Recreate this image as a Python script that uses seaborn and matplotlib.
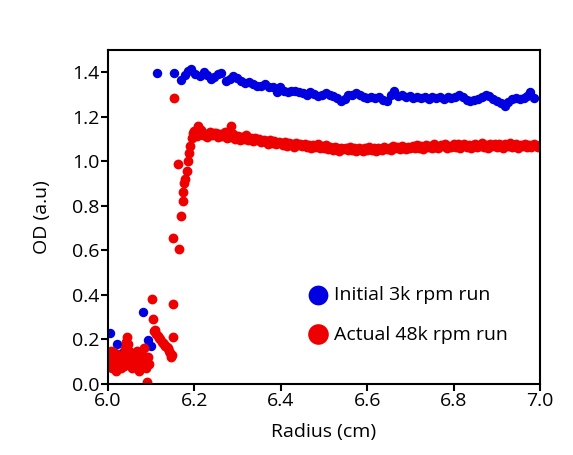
import matplotlib
matplotlib.use('Agg')
import matplotlib.pyplot as plt
import seaborn as sns
import pandas as pd

# Initial 3k rpm run (blue)
initial_radius = [6.005, 6.012, 6.021, 6.032, 6.081, 6.093, 6.100,
                  6.113, 6.153, 6.169, 6.178, 6.185, 6.192, 6.201, 6.213, 6.222, 6.229,
                  6.238, 6.245, 6.255, 6.262, 6.273, 6.282, 6.289, 6.299, 6.308, 6.317,
                  6.326, 6.336, 6.345, 6.354, 6.363, 6.373, 6.382, 6.391, 6.398, 6.407,
                  6.416, 6.424, 6.433, 6.442, 6.451, 6.460, 6.468, 6.477, 6.486, 6.495,
                  6.504, 6.513, 6.521, 6.530, 6.539, 6.548, 6.556, 6.565, 6.574, 6.583,
                  6.592, 6.600, 6.609, 6.618, 6.627, 6.636, 6.645, 6.654, 6.662, 6.671,
                  6.680, 6.689, 6.698, 6.706, 6.715, 6.724, 6.733, 6.742, 6.751, 6.759,
                  6.768, 6.777, 6.786, 6.795, 6.803, 6.812, 6.821, 6.830, 6.839, 6.848,
                  6.856, 6.865, 6.874, 6.883, 6.892, 6.900, 6.909, 6.918, 6.927, 6.936,
                  6.945, 6.953, 6.962, 6.971, 6.978, 6.986]
initial_od = [0.230, 0.130, 0.180, 0.140, 0.324, 0.198, 0.170,
              1.396, 1.396, 1.365, 1.390, 1.405, 1.414, 1.392, 1.383, 1.401, 1.387,
              1.369, 1.378, 1.392, 1.396, 1.360, 1.369, 1.383, 1.374, 1.360, 1.351,
              1.356, 1.347, 1.338, 1.338, 1.347, 1.333, 1.333, 1.311, 1.335, 1.318,
              1.312, 1.318, 1.315, 1.312, 1.306, 1.300, 1.310, 1.303, 1.295, 1.300,
              1.306, 1.300, 1.292, 1.285, 1.270, 1.280, 1.296, 1.300, 1.308, 1.296,
              1.290, 1.285, 1.290, 1.283, 1.288, 1.277, 1.272, 1.300, 1.318, 1.292,
              1.296, 1.290, 1.293, 1.286, 1.291, 1.285, 1.288, 1.280, 1.290, 1.284,
              1.288, 1.282, 1.290, 1.284, 1.288, 1.300, 1.290, 1.276, 1.272, 1.275,
              1.280, 1.290, 1.300, 1.292, 1.278, 1.270, 1.262, 1.250, 1.268, 1.280,
              1.284, 1.282, 1.286, 1.292, 1.310, 1.286]

# Actual 48k rpm run (red)
actual_radius = [6.002, 6.004, 6.006, 6.008, 6.010, 6.012, 6.014, 6.016, 6.018, 6.020,
                 6.022, 6.024, 6.026, 6.028, 6.030, 6.032, 6.034, 6.036, 6.038, 6.040,
                 6.042, 6.044, 6.046, 6.048, 6.050, 6.052, 6.054, 6.056, 6.058, 6.060,
                 6.062, 6.064, 6.066, 6.068, 6.070, 6.072, 6.074, 6.076, 6.078, 6.080,
                 6.082, 6.084, 6.086, 6.088, 6.090, 6.092, 6.094,
                 6.102, 6.104, 6.106, 6.109, 6.112, 6.115, 6.118, 6.121, 6.124, 6.127,
                 6.130, 6.133, 6.136, 6.139, 6.142, 6.144, 6.146, 6.148, 6.150, 6.150,
                 6.150, 6.153, 6.162, 6.165, 6.170, 6.174, 6.174, 6.177, 6.179, 6.182,
                 6.186, 6.188, 6.190, 6.194, 6.197, 6.208, 6.285,
                 6.200, 6.205, 6.210, 6.215, 6.220, 6.225, 6.230, 6.235, 6.240, 6.245,
                 6.250, 6.255, 6.260, 6.265, 6.270, 6.275, 6.280, 6.285, 6.290, 6.295,
                 6.300, 6.305, 6.310, 6.315, 6.320, 6.325, 6.330, 6.335, 6.340, 6.345,
                 6.350, 6.355, 6.360, 6.365, 6.370, 6.375, 6.380, 6.385, 6.390, 6.395,
                 6.400, 6.405, 6.410, 6.415, 6.420, 6.425, 6.430, 6.435, 6.440, 6.445,
                 6.450, 6.455, 6.460, 6.465, 6.470, 6.475, 6.480, 6.485, 6.490, 6.495,
                 6.500, 6.505, 6.510, 6.515, 6.520, 6.525, 6.530, 6.535, 6.540, 6.545,
                 6.550, 6.555, 6.560, 6.565, 6.570, 6.575, 6.580, 6.585, 6.590, 6.595,
                 6.600, 6.605, 6.610, 6.615, 6.620, 6.625, 6.630, 6.635, 6.640, 6.645,
                 6.650, 6.655, 6.660, 6.665, 6.670, 6.675, 6.680, 6.685, 6.690, 6.695,
                 6.700, 6.705, 6.710, 6.715, 6.720, 6.725, 6.730, 6.735, 6.740, 6.745,
                 6.750, 6.755, 6.760, 6.765, 6.770, 6.775, 6.780, 6.785, 6.790, 6.795,
                 6.800, 6.805, 6.810, 6.815, 6.820, 6.825, 6.830, 6.835, 6.840, 6.845,
                 6.850, 6.855, 6.860, 6.865, 6.870, 6.875, 6.880, 6.885, 6.890, 6.895,
                 6.900, 6.905, 6.910, 6.915, 6.920, 6.925, 6.930, 6.935, 6.940, 6.945,
                 6.950, 6.955, 6.960, 6.965, 6.970, 6.975, 6.980, 6.985, 6.990, 6.995,
                 7.000]
actual_od = [0.120, 0.080, 0.150, 0.100, 0.070, 0.120, 0.090, 0.140, 0.060, 0.110,
             0.080, 0.130, 0.090, 0.120, 0.070, 0.100, 0.130, 0.080, 0.110, 0.160,
             0.190, 0.210, 0.180, 0.150, 0.120, 0.090, 0.140, 0.070, 0.100, 0.130,
             0.080, 0.110, 0.150, 0.090, 0.120, 0.060, 0.100, 0.140, 0.110, 0.080,
             0.120, 0.160, 0.100, 0.070, 0.010, 0.120, 0.090,
             0.383, 0.290, 0.240, 0.243, 0.225, 0.215, 0.205, 0.200, 0.190, 0.185,
             0.180, 0.170, 0.165, 0.160, 0.150, 0.140, 0.120, 0.130, 0.360, 0.210,
             0.656, 1.286, 0.986, 0.607, 0.754, 0.824, 0.862, 0.904, 0.922, 0.956,
             1.001, 1.039, 1.069, 1.107, 1.129, 1.158, 1.158,
             1.135, 1.112, 1.128, 1.140, 1.118, 1.125, 1.110, 1.132, 1.120, 1.128,
             1.126, 1.108, 1.122, 1.112, 1.130, 1.105, 1.118, 1.110, 1.124, 1.102,
             1.115, 1.098, 1.110, 1.100, 1.118, 1.095, 1.106, 1.090, 1.104, 1.098,
             1.100, 1.086, 1.098, 1.092, 1.080, 1.095, 1.084, 1.090, 1.076, 1.088,
             1.082, 1.074, 1.088, 1.070, 1.082, 1.076, 1.066, 1.084, 1.072, 1.078,
             1.068, 1.080, 1.064, 1.074, 1.058, 1.072, 1.066, 1.076, 1.060, 1.070,
             1.062, 1.072, 1.055, 1.066, 1.050, 1.064, 1.058, 1.046, 1.062, 1.055,
             1.060, 1.050, 1.064, 1.052, 1.058, 1.045, 1.062, 1.054, 1.048, 1.060,
             1.052, 1.064, 1.050, 1.058, 1.046, 1.062, 1.056, 1.050, 1.066, 1.054,
             1.060, 1.052, 1.068, 1.058, 1.064, 1.054, 1.070, 1.060, 1.056, 1.066,
             1.058, 1.070, 1.062, 1.074, 1.060, 1.068, 1.056, 1.072, 1.064, 1.070,
             1.062, 1.076, 1.066, 1.060, 1.074, 1.068, 1.080, 1.062, 1.070, 1.064,
             1.076, 1.066, 1.078, 1.062, 1.072, 1.080, 1.066, 1.074, 1.060, 1.072,
             1.078, 1.064, 1.070, 1.082, 1.066, 1.074, 1.062, 1.078, 1.068, 1.076,
             1.066, 1.080, 1.070, 1.062, 1.076, 1.068, 1.082, 1.064, 1.072, 1.078,
             1.062, 1.074, 1.068, 1.080, 1.064, 1.072, 1.066, 1.078, 1.070, 1.064,
             1.072]

x_ticks = [6.0, 6.2, 6.4, 6.6, 6.8, 7.0]
y_ticks = [0.0, 0.2, 0.4, 0.6, 0.8, 1.0, 1.2, 1.4]

sns.set_theme(style='ticks')
plt.rcParams['font.family'] = ['Open Sans', 'DejaVu Sans']
plt.rcParams['text.color'] = 'black'
plt.rcParams['axes.labelcolor'] = 'black'

initial = pd.DataFrame({'Radius': initial_radius, 'OD': initial_od})
actual = pd.DataFrame({'Radius': actual_radius, 'OD': actual_od})

fig = plt.figure(figsize=(5.73, 4.55), dpi=100)
ax = fig.add_axes([0.1885, 0.156, 0.7539, 0.734])

sns.scatterplot(data=initial, x='Radius', y='OD', color='#0000e0', s=46,
                linewidth=0, label='Initial 3k rpm run', ax=ax)
sns.scatterplot(data=actual, x='Radius', y='OD', color='#ee0000', s=50,
                linewidth=0, label='Actual 48k rpm run', ax=ax)

ax.set_xlim(6.0, 7.0)
ax.set_ylim(0.0, 1.5)
ax.set_xticks(x_ticks)
ax.set_yticks(y_ticks)
ax.set_xticklabels([f'{t:.1f}' for t in x_ticks])
ax.set_yticklabels([f'{t:.1f}' for t in y_ticks])
ax.tick_params(labelsize=14, length=5, width=1.5, color='black', labelcolor='black', pad=1)
for sp in ax.spines.values():
    sp.set_linewidth(1.5)
    sp.set_color('black')

ax.set_xlabel('Radius (cm)', fontsize=14, labelpad=9)
ax.set_ylabel('OD (a.u)', fontsize=14, labelpad=15)

ax.legend(loc='center left', bbox_to_anchor=(0.423, 0.207), frameon=False,
          markerscale=2.1, handlelength=1.0, handletextpad=0.35,
          labelspacing=1.1, fontsize=14)

fig.savefig('out.png', dpi=100)
